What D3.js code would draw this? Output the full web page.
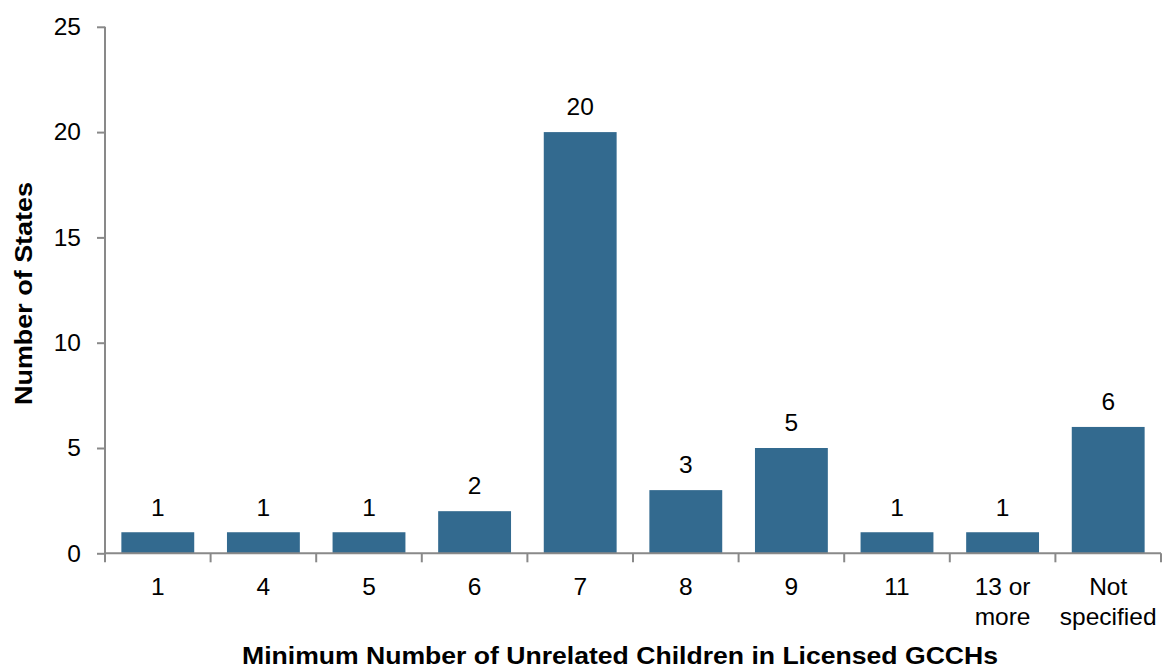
<!DOCTYPE html>
<html><head><meta charset="utf-8">
<script src="https://cdn.jsdelivr.net/npm/d3@7"></script>
<style>
html,body{margin:0;padding:0;background:#fff;}
svg{display:block;font-family:"Liberation Sans",Arial,sans-serif;}
</style></head>
<body>
<svg id="chart" width="1163" height="668"></svg>
<script>
const categories = [["1"],["4"],["5"],["6"],["7"],["8"],["9"],["11"],["13 or","more"],["Not","specified"]];
const values = [1,1,1,2,20,3,5,1,1,6];
const yTicks = [0,5,10,15,20,25];
const xTitle = "Minimum Number of Unrelated Children in Licensed GCCHs";
const yTitle = "Number of States";

(function(){
const svg = d3.select("#chart");
const pLeft = 105, pRight = 1161, pTop = 26.8, pBottom = 553.3;
const keys = categories.map(c => c.join(" "));
const x = d3.scaleBand().domain(keys).range([pLeft, pRight]).paddingInner(0.31).paddingOuter(0.155);
const y = d3.scaleLinear().domain([0,25]).range([pBottom, pTop]);
const axisColor = "#898989";
const barColor = "#336a8f";

svg.append("g").selectAll("rect").data(values).join("rect")
  .attr("x", (d,i) => x(keys[i]))
  .attr("y", d => y(d))
  .attr("width", x.bandwidth())
  .attr("height", d => y(0) - y(d))
  .attr("fill", barColor);

svg.append("g").selectAll("text").data(values).join("text")
  .attr("x", (d,i) => x(keys[i]) + x.bandwidth()/2)
  .attr("y", d => y(d) - 16.7)
  .attr("text-anchor","middle")
  .attr("font-size", 24.5)
  .attr("fill","#000")
  .text(d => d);

const yAxis = svg.append("g").attr("transform", `translate(${pLeft},0)`)
  .call(d3.axisLeft(y).tickValues(yTicks).tickSize(8).tickPadding(16));
yAxis.select(".domain").attr("stroke", axisColor).attr("stroke-width", 2).attr("d", `M0,${pTop}V${pBottom}`);
yAxis.selectAll(".tick line").attr("stroke", axisColor).attr("stroke-width", 2);
yAxis.selectAll(".tick text").attr("font-size", 24.5).attr("font-family","Liberation Sans, Arial, sans-serif").attr("fill","#000");

const xAxis = svg.append("g").attr("transform", `translate(0,${pBottom})`)
  .call(d3.axisBottom(x).tickSize(0).tickFormat(""));
xAxis.select(".domain").attr("stroke", axisColor).attr("stroke-width", 2).attr("d", `M${pLeft},0H${pRight}`);
xAxis.selectAll(".tick").remove();
const bounds = keys.map(k => x(k) - x.step()*x.paddingInner()/2).concat([pRight]);
bounds[0] = pLeft;
xAxis.selectAll("line.sep").data(bounds).join("line").attr("class","sep")
  .attr("x1", d => d).attr("x2", d => d).attr("y1", 0).attr("y2", 9)
  .attr("stroke", axisColor).attr("stroke-width", 2);
const lbl = svg.append("g");
categories.forEach((c,i) => {
  const cx = x(keys[i]) + x.bandwidth()/2;
  const t = lbl.append("text")
    .attr("x", cx)
    .attr("y", pBottom + 41.7)
    .attr("text-anchor","middle").attr("font-size", 24.5).attr("fill","#000");
  c.forEach((line,j) => t.append("tspan").attr("x", cx).attr("dy", j===0?0:30).text(line));
});

svg.append("text").attr("x", 620).attr("y", 663.5).attr("text-anchor","middle")
  .attr("font-size", 24.5).attr("font-weight","bold").attr("fill","#000")
  .attr("textLength", 756).attr("lengthAdjust","spacingAndGlyphs").text(xTitle);
svg.append("text").attr("transform", "translate(31.5,293.5) rotate(-90)").attr("text-anchor","middle")
  .attr("font-size", 24.5).attr("font-weight","bold").attr("fill","#000")
  .attr("textLength", 223).attr("lengthAdjust","spacingAndGlyphs").text(yTitle);
})();
</script>
</body></html>
